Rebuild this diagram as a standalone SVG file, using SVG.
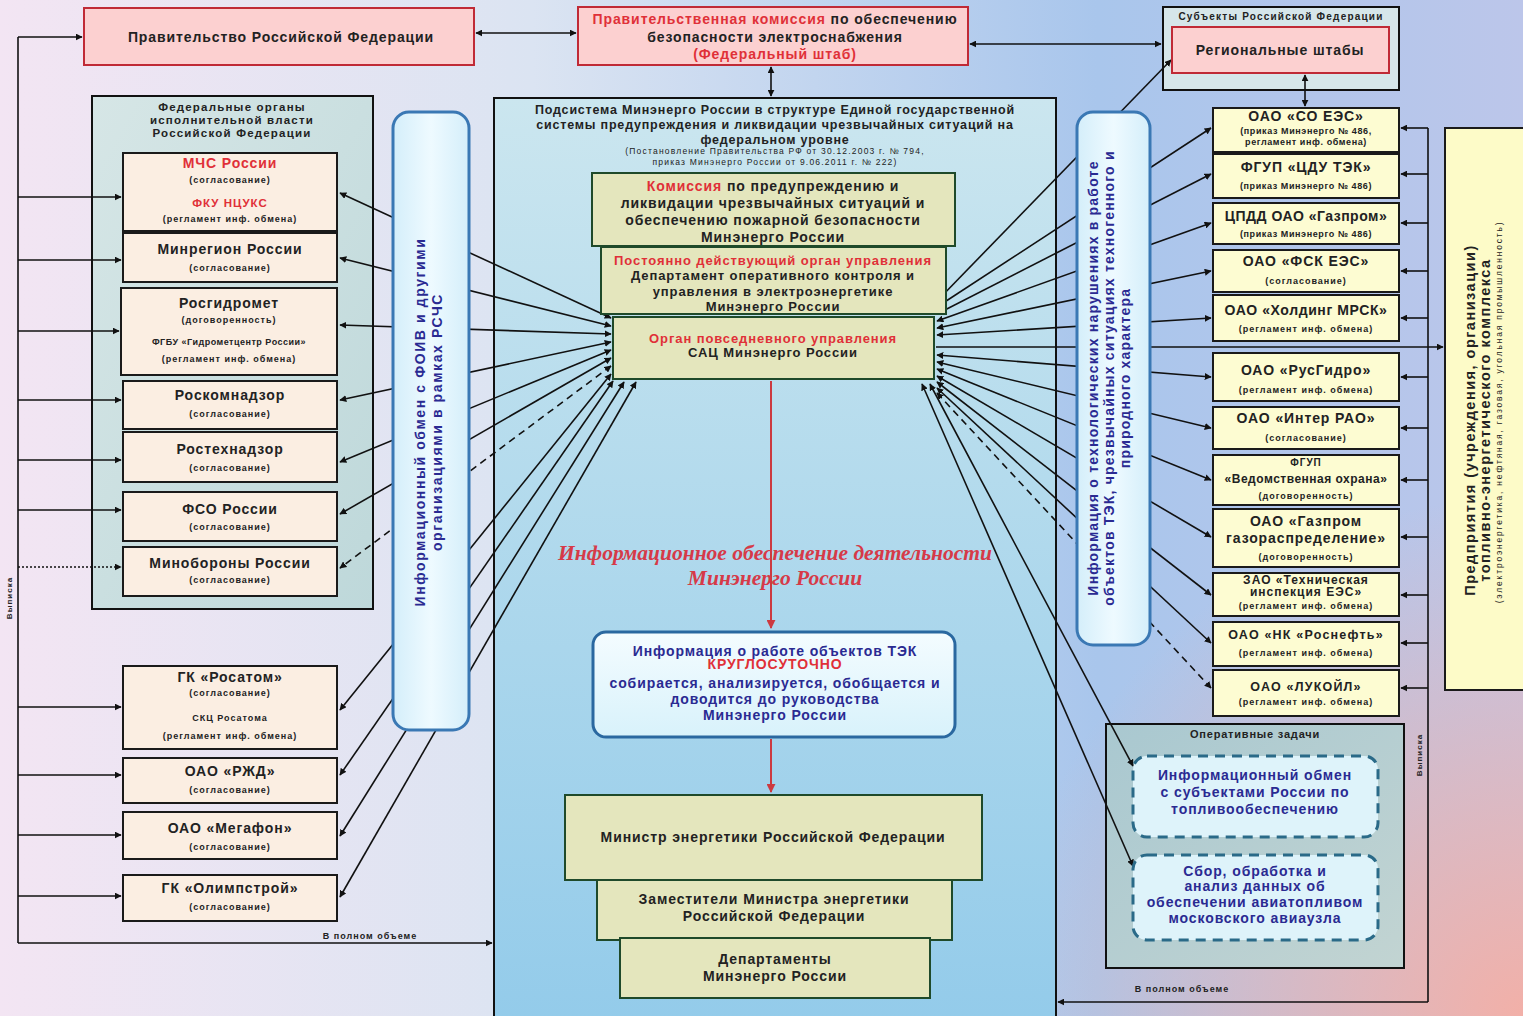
<svg xmlns="http://www.w3.org/2000/svg" width="1523" height="1016" viewBox="0 0 1523 1016">
<defs>
<linearGradient id="bg" x1="0" y1="0" x2="1" y2="0">
<stop offset="0" stop-color="#f3e5f3"/><stop offset="0.35" stop-color="#dbe4f2"/><stop offset="0.72" stop-color="#a9c6ec"/><stop offset="1" stop-color="#bcc6ea"/>
</linearGradient>
<radialGradient id="pink" cx="1523" cy="1016" r="520" gradientUnits="userSpaceOnUse">
<stop offset="0" stop-color="#f2b0a8" stop-opacity="1"/><stop offset="1" stop-color="#f2b0a8" stop-opacity="0"/>
</radialGradient>
<linearGradient id="center" x1="0" y1="0" x2="0" y2="1">
<stop offset="0" stop-color="#cbe6ef"/><stop offset="1" stop-color="#93cbea"/>
</linearGradient>
<linearGradient id="fed" x1="0" y1="0" x2="1" y2="1">
<stop offset="0" stop-color="#d6e6e6"/><stop offset="1" stop-color="#bed8da"/>
</linearGradient>
<linearGradient id="oper" x1="0" y1="0" x2="1" y2="1">
<stop offset="0" stop-color="#a9c8d0"/><stop offset="1" stop-color="#c2d4d2"/>
</linearGradient>
<linearGradient id="vblue" x1="0" y1="0" x2="1" y2="0">
<stop offset="0" stop-color="#d4eefa"/><stop offset="0.5" stop-color="#eefaff"/><stop offset="1" stop-color="#d4eefa"/>
</linearGradient>
<linearGradient id="info" x1="0" y1="0" x2="0" y2="1">
<stop offset="0" stop-color="#f4fcff"/><stop offset="1" stop-color="#d8f2fb"/>
</linearGradient>
<marker id="a" viewBox="0 0 10 10" refX="9" refY="5" markerWidth="7" markerHeight="7" markerUnits="userSpaceOnUse" orient="auto-start-reverse">
<path d="M0,0 L10,5 L0,10 z" fill="#111"/>
</marker>
<marker id="ar" viewBox="0 0 10 10" refX="9" refY="5" markerWidth="9" markerHeight="9" markerUnits="userSpaceOnUse" orient="auto">
<path d="M0,0 L10,5 L0,10 z" fill="#cc3a40"/>
</marker>
<style>
text{font-family:"Liberation Sans",Arial,sans-serif;font-weight:bold;fill:#222;text-anchor:middle}
.m{font-size:14px;letter-spacing:0.9px}
.n{font-size:13px;letter-spacing:0.9px}
.s{font-size:9px;letter-spacing:1px}
.xs{font-size:9px;letter-spacing:1px}
.r{fill:#e03038}
.b{fill:#2a2a92}
.pk{fill:#fcd0d0;stroke:#c02a36;stroke-width:2}
.pe{fill:#fbeee2;stroke:#1a1a1a;stroke-width:2}
.ye{fill:#fdfcd2;stroke:#1a1a1a;stroke-width:2}
.kh{fill:#e4e6bd;stroke:#1f4a2a;stroke-width:2}
.cn line,.cn path{stroke:#111;stroke-width:1.6;fill:none}
.dash{stroke-dasharray:7 5}
.dot{stroke-dasharray:2 2}
</style>
</defs>
<rect width="1523" height="1016" fill="url(#bg)"/>
<rect width="1523" height="1016" fill="url(#pink)"/>

<g id="containers">
<rect x="92" y="96" width="281" height="513" fill="url(#fed)" stroke="#111" stroke-width="2"/>
<rect x="494" y="98" width="562" height="930" fill="url(#center)" stroke="#111" stroke-width="2"/>
<rect x="1106" y="724" width="298" height="244" fill="url(#oper)" stroke="#111" stroke-width="2"/>
<rect x="1163" y="7" width="236" height="83" fill="#d6e6ea" stroke="#111" stroke-width="2"/>
</g>

<g id="connectors" class="cn">
<line x1="18" y1="37" x2="18" y2="943"/>
<line x1="18" y1="37" x2="82" y2="37" marker-end="url(#a)"/>
<line x1="18" y1="197" x2="121" y2="197" marker-end="url(#a)"/>
<line x1="18" y1="260" x2="121" y2="260" marker-end="url(#a)"/>
<line x1="18" y1="331" x2="119" y2="331" marker-end="url(#a)"/>
<line x1="18" y1="400" x2="121" y2="400" marker-end="url(#a)"/>
<line x1="18" y1="460" x2="121" y2="460" marker-end="url(#a)"/>
<line x1="18" y1="510" x2="121" y2="510" marker-end="url(#a)"/>
<line x1="18" y1="567" x2="121" y2="567" class="dot" marker-end="url(#a)"/>
<line x1="18" y1="707" x2="121" y2="707" marker-end="url(#a)"/>
<line x1="18" y1="775" x2="121" y2="775" marker-end="url(#a)"/>
<line x1="18" y1="835" x2="121" y2="835" marker-end="url(#a)"/>
<line x1="18" y1="896" x2="121" y2="896" marker-end="url(#a)"/>
<line x1="18" y1="943" x2="492" y2="943" marker-end="url(#a)"/>
<line x1="476" y1="33" x2="576" y2="33" marker-start="url(#a)" marker-end="url(#a)"/>
<line x1="970" y1="44" x2="1161" y2="44" marker-start="url(#a)" marker-end="url(#a)"/>
<line x1="771" y1="67" x2="771" y2="96" marker-start="url(#a)" marker-end="url(#a)"/>
<line x1="1305" y1="75" x2="1305" y2="106" marker-start="url(#a)" marker-end="url(#a)"/>
<line x1="611" y1="318" x2="340" y2="193" marker-start="url(#a)" marker-end="url(#a)"/>
<line x1="611" y1="326" x2="340" y2="258" marker-start="url(#a)" marker-end="url(#a)"/>
<line x1="611" y1="334" x2="340" y2="325" marker-start="url(#a)" marker-end="url(#a)"/>
<line x1="611" y1="342" x2="340" y2="400" marker-start="url(#a)" marker-end="url(#a)"/>
<line x1="611" y1="350" x2="340" y2="462" marker-start="url(#a)" marker-end="url(#a)"/>
<line x1="611" y1="358" x2="340" y2="514" marker-start="url(#a)" marker-end="url(#a)"/>
<line x1="611" y1="366" x2="340" y2="568" class="dash" marker-start="url(#a)" marker-end="url(#a)"/>
<line x1="611" y1="374" x2="340" y2="710" marker-start="url(#a)" marker-end="url(#a)"/>
<line x1="613" y1="381" x2="340" y2="775" marker-start="url(#a)" marker-end="url(#a)"/>
<line x1="624" y1="382" x2="340" y2="836" marker-start="url(#a)" marker-end="url(#a)"/>
<line x1="636" y1="382" x2="340" y2="897" marker-start="url(#a)" marker-end="url(#a)"/>
<line x1="938" y1="300" x2="1171" y2="60" marker-start="url(#a)" marker-end="url(#a)"/>
<line x1="937" y1="307" x2="1211" y2="128" marker-start="url(#a)" marker-end="url(#a)"/>
<line x1="937" y1="314" x2="1211" y2="174" marker-start="url(#a)" marker-end="url(#a)"/>
<line x1="937" y1="321" x2="1211" y2="223" marker-start="url(#a)" marker-end="url(#a)"/>
<line x1="937" y1="328" x2="1211" y2="271" marker-start="url(#a)" marker-end="url(#a)"/>
<line x1="937" y1="335" x2="1211" y2="318" marker-start="url(#a)" marker-end="url(#a)"/>
<line x1="936" y1="347" x2="1443" y2="347" marker-end="url(#a)"/>
<line x1="937" y1="355" x2="1211" y2="377" marker-start="url(#a)" marker-end="url(#a)"/>
<line x1="937" y1="362" x2="1211" y2="428" marker-start="url(#a)" marker-end="url(#a)"/>
<line x1="937" y1="369" x2="1211" y2="480" marker-start="url(#a)" marker-end="url(#a)"/>
<line x1="937" y1="376" x2="1211" y2="537" marker-start="url(#a)" marker-end="url(#a)"/>
<line x1="937" y1="382" x2="1211" y2="595" marker-start="url(#a)" marker-end="url(#a)"/>
<line x1="937" y1="388" x2="1211" y2="643" marker-start="url(#a)" marker-end="url(#a)"/>
<line x1="937" y1="393" x2="1211" y2="688" class="dash" marker-start="url(#a)" marker-end="url(#a)"/>
<line x1="930" y1="384" x2="1133" y2="766" marker-start="url(#a)" marker-end="url(#a)"/>
<line x1="922" y1="384" x2="1133" y2="866" marker-start="url(#a)" marker-end="url(#a)"/>
<line x1="1428" y1="128" x2="1428" y2="1002"/>
<line x1="1428" y1="128" x2="1401" y2="128" marker-end="url(#a)"/>
<line x1="1428" y1="174" x2="1401" y2="174" marker-end="url(#a)"/>
<line x1="1428" y1="223" x2="1401" y2="223" marker-end="url(#a)"/>
<line x1="1428" y1="271" x2="1401" y2="271" marker-end="url(#a)"/>
<line x1="1428" y1="318" x2="1401" y2="318" marker-end="url(#a)"/>
<line x1="1428" y1="377" x2="1401" y2="377" marker-end="url(#a)"/>
<line x1="1428" y1="428" x2="1401" y2="428" marker-end="url(#a)"/>
<line x1="1428" y1="480" x2="1401" y2="480" marker-end="url(#a)"/>
<line x1="1428" y1="537" x2="1401" y2="537" marker-end="url(#a)"/>
<line x1="1428" y1="595" x2="1401" y2="595" marker-end="url(#a)"/>
<line x1="1428" y1="643" x2="1401" y2="643" marker-end="url(#a)"/>
<line x1="1428" y1="688" x2="1401" y2="688" marker-end="url(#a)"/>
<line x1="1428" y1="1002" x2="1058" y2="1002" marker-end="url(#a)"/>
<line x1="771" y1="381" x2="771" y2="628" style="stroke:#cc3a40;stroke-width:2" marker-end="url(#ar)"/>
<line x1="771" y1="739" x2="771" y2="792" style="stroke:#cc3a40;stroke-width:2" marker-end="url(#ar)"/>
</g>

<g id="labels">
<text class="xs" transform="translate(12,598) rotate(-90)" style="font-size:8px">Выписка</text>
<text class="xs" x="370" y="939">В полном объеме</text>
<text class="xs" transform="translate(1422,755) rotate(-90)" style="font-size:8px">Выписка</text>
<text class="xs" x="1182" y="992">В полном объеме</text>
</g>

<g id="n-gov">
<rect x="84" y="8" width="390" height="57" class="pk"/>
<text class="m" x="281" y="42">Правительство Российской Федерации</text>
</g>
<g id="n-commission">
<rect x="578" y="7" width="390" height="58" class="pk"/>
<text class="m" x="775" y="24"><tspan class="r">Правительственная комиссия</tspan> по обеспечению</text>
<text class="m" x="775" y="42">безопасности электроснабжения</text>
<text class="m r" x="775" y="59">(Федеральный штаб)</text>
</g>
<g id="n-subjects">
<text class="s" x="1281" y="20" style="font-size:10px;letter-spacing:1.2px">Субъекты Российской Федерации</text>
<rect x="1172" y="27" width="217" height="46" class="pk"/>
<text class="m" x="1280" y="55">Региональные штабы</text>
</g>

<g id="n-fed-title">
<text class="s" x="232" y="111" style="font-size:11.5px;letter-spacing:1.2px">Федеральные органы</text>
<text class="s" x="232" y="124" style="font-size:11.5px;letter-spacing:1.2px">исполнительной власти</text>
<text class="s" x="232" y="137" style="font-size:11.5px;letter-spacing:1.2px">Российской Федерации</text>
</g>
<g id="n-mchs">
<rect x="123" y="153" width="214" height="78" class="pe"/>
<text class="m r" x="230" y="168">МЧС России</text>
<text class="s" x="230" y="183">(согласование)</text>
<text class="s r" x="230" y="207" style="font-size:11.5px">ФКУ НЦУКС</text>
<text class="s" x="230" y="222">(регламент инф. обмена)</text>
</g>
<g id="n-minregion">
<rect x="123" y="233" width="214" height="49" class="pe"/>
<text class="m" x="230" y="254">Минрегион России</text>
<text class="s" x="230" y="271">(согласование)</text>
</g>
<g id="n-rosgidromet">
<rect x="121" y="288" width="216" height="87" class="pe"/>
<text class="m" x="229" y="308">Росгидромет</text>
<text class="s" x="229" y="323">(договоренность)</text>
<text class="s" x="229" y="345" style="letter-spacing:0.5px">ФГБУ «Гидрометцентр России»</text>
<text class="s" x="229" y="362">(регламент инф. обмена)</text>
</g>
<g id="n-roskom">
<rect x="123" y="381" width="214" height="48" class="pe"/>
<text class="m" x="230" y="400">Роскомнадзор</text>
<text class="s" x="230" y="417">(согласование)</text>
</g>
<g id="n-rostech">
<rect x="123" y="432" width="214" height="50" class="pe"/>
<text class="m" x="230" y="454">Ростехнадзор</text>
<text class="s" x="230" y="471">(согласование)</text>
</g>
<g id="n-fso">
<rect x="123" y="492" width="214" height="49" class="pe"/>
<text class="m" x="230" y="514">ФСО России</text>
<text class="s" x="230" y="530">(согласование)</text>
</g>
<g id="n-minoborony">
<rect x="123" y="547" width="214" height="49" class="pe"/>
<text class="m" x="230" y="568">Минобороны России</text>
<text class="s" x="230" y="583">(согласование)</text>
</g>
<g id="n-rosatom">
<rect x="123" y="666" width="214" height="83" class="pe"/>
<text class="m" x="230" y="682">ГК «Росатом»</text>
<text class="s" x="230" y="696">(согласование)</text>
<text class="s" x="230" y="721">СКЦ Росатома</text>
<text class="s" x="230" y="739">(регламент инф. обмена)</text>
</g>
<g id="n-rzd">
<rect x="123" y="758" width="214" height="45" class="pe"/>
<text class="m" x="230" y="776">ОАО «РЖД»</text>
<text class="s" x="230" y="793">(согласование)</text>
</g>
<g id="n-megafon">
<rect x="123" y="812" width="214" height="47" class="pe"/>
<text class="m" x="230" y="833">ОАО «Мегафон»</text>
<text class="s" x="230" y="850">(согласование)</text>
</g>
<g id="n-olimpstroy">
<rect x="123" y="875" width="214" height="46" class="pe"/>
<text class="m" x="230" y="893">ГК «Олимпстрой»</text>
<text class="s" x="230" y="910">(согласование)</text>
</g>

<g id="n-left-info">
<rect x="393" y="112" width="76" height="618" rx="16" fill="url(#vblue)" stroke="#3a78b4" stroke-width="3"/>
<text class="m b" transform="translate(425,422) rotate(-90)" style="letter-spacing:1.6px">Информационный обмен с ФОИВ и другими</text>
<text class="m b" transform="translate(442,422) rotate(-90)" style="letter-spacing:1.6px">организациями в рамках РСЧС</text>
</g>

<g id="n-center-title">
<text class="s" x="775" y="114" style="font-size:12.5px;letter-spacing:0.8px">Подсистема Минэнерго России в структуре Единой государственной</text>
<text class="s" x="775" y="129" style="font-size:12.5px;letter-spacing:0.8px">системы предупреждения и ликвидации чрезвычайных ситуаций на</text>
<text class="s" x="775" y="144" style="font-size:12.5px;letter-spacing:0.8px">федеральном уровне</text>
<text class="xs" x="775" y="154" style="font-size:8.5px;font-weight:normal;letter-spacing:1.2px">(Постановление Правительства РФ от 30.12.2003 г. № 794,</text>
<text class="xs" x="775" y="165" style="font-size:8.5px;font-weight:normal;letter-spacing:1.2px">приказ Минэнерго России от 9.06.2011 г. № 222)</text>
</g>
<g id="n-kchs">
<rect x="592" y="173" width="363" height="73" class="kh"/>
<text class="m" x="773" y="191"><tspan class="r">Комиссия</tspan> по предупреждению и</text>
<text class="m" x="773" y="208">ликвидации чрезвычайных ситуаций и</text>
<text class="m" x="773" y="225">обеспечению пожарной безопасности</text>
<text class="m" x="773" y="242">Минэнерго России</text>
</g>
<g id="n-postoyanno">
<rect x="601" y="247" width="345" height="67" class="kh"/>
<text class="n r" x="773" y="265">Постоянно действующий орган управления</text>
<text class="n" x="773" y="280">Департамент оперативного контроля и</text>
<text class="n" x="773" y="296">управления в электроэнергетике</text>
<text class="n" x="773" y="311">Минэнерго России</text>
</g>
<g id="n-sac">
<rect x="613" y="317" width="321" height="62" class="kh"/>
<text class="n r" x="773" y="343">Орган повседневного управления</text>
<text class="n" x="773" y="357">САЦ Минэнерго России</text>
</g>
<g id="n-red-label">
<text x="775" y="560" style="font-family:'Liberation Serif',serif;font-style:italic;font-size:21.5px;fill:#d63a48">Информационное обеспечение деятельности</text>
<text x="775" y="585" style="font-family:'Liberation Serif',serif;font-style:italic;font-size:21.5px;fill:#d63a48">Минэнерго России</text>
</g>
<g id="n-info">
<rect x="593" y="632" width="362" height="105" rx="13" fill="url(#info)" stroke="#2a68a0" stroke-width="3"/>
<text class="m b" x="775" y="656">Информация о работе объектов ТЭК</text>
<text class="m r" x="775" y="669">КРУГЛОСУТОЧНО</text>
<text class="m b" x="775" y="688">собирается, анализируется, обобщается и</text>
<text class="m b" x="775" y="704">доводится до руководства</text>
<text class="m b" x="775" y="720">Минэнерго России</text>
</g>
<g id="n-minister">
<rect x="565" y="795" width="417" height="85" class="kh"/>
<text class="m" x="773" y="842">Министр энергетики Российской Федерации</text>
</g>
<g id="n-deputies">
<rect x="597" y="880" width="355" height="60" class="kh"/>
<text class="m" x="774" y="904">Заместители Министра энергетики</text>
<text class="m" x="774" y="921">Российской Федерации</text>
</g>
<g id="n-departments">
<rect x="620" y="938" width="310" height="60" class="kh"/>
<text class="m" x="775" y="964">Департаменты</text>
<text class="m" x="775" y="981">Минэнерго России</text>
</g>

<g id="n-right-info">
<rect x="1077" y="112" width="73" height="533" rx="16" fill="url(#vblue)" stroke="#3a78b4" stroke-width="3"/>
<text class="m b" transform="translate(1098,378) rotate(-90)" style="letter-spacing:1.2px">Информация о технологических нарушениях в работе</text>
<text class="m b" transform="translate(1114,378) rotate(-90)" style="letter-spacing:1.2px">объектов ТЭК, чрезвычайных ситуациях техногенного и</text>
<text class="m b" transform="translate(1130,378) rotate(-90)" style="letter-spacing:1.2px">природного характера</text>
</g>

<g id="n-so-ees">
<rect x="1213" y="108" width="186" height="44" class="ye"/>
<text class="m" x="1306" y="121">ОАО «СО ЕЭС»</text>
<text class="s" x="1306" y="134" style="letter-spacing:0.6px">(приказ Минэнерго № 486,</text>
<text class="s" x="1306" y="145" style="letter-spacing:0.6px">регламент инф. обмена)</text>
</g>
<g id="n-cdu">
<rect x="1213" y="154" width="186" height="44" class="ye"/>
<text class="m" x="1306" y="172">ФГУП «ЦДУ ТЭК»</text>
<text class="s" x="1306" y="189" style="letter-spacing:0.6px">(приказ Минэнерго № 486)</text>
</g>
<g id="n-cpdd">
<rect x="1213" y="203" width="186" height="41" class="ye"/>
<text class="m" x="1306" y="221" style="letter-spacing:0.5px">ЦПДД ОАО «Газпром»</text>
<text class="s" x="1306" y="237" style="letter-spacing:0.6px">(приказ Минэнерго № 486)</text>
</g>
<g id="n-fsk">
<rect x="1213" y="250" width="186" height="42" class="ye"/>
<text class="m" x="1306" y="266">ОАО «ФСК ЕЭС»</text>
<text class="s" x="1306" y="284">(согласование)</text>
</g>
<g id="n-mrsk">
<rect x="1213" y="295" width="186" height="46" class="ye"/>
<text class="m" x="1306" y="315" style="letter-spacing:0.6px">ОАО «Холдинг МРСК»</text>
<text class="s" x="1306" y="332">(регламент инф. обмена)</text>
</g>
<g id="n-rushydro">
<rect x="1213" y="353" width="186" height="48" class="ye"/>
<text class="m" x="1306" y="375">ОАО «РусГидро»</text>
<text class="s" x="1306" y="393">(регламент инф. обмена)</text>
</g>
<g id="n-interrao">
<rect x="1213" y="407" width="186" height="42" class="ye"/>
<text class="m" x="1306" y="423">ОАО «Интер РАО»</text>
<text class="s" x="1306" y="441">(согласование)</text>
</g>
<g id="n-vohrana">
<rect x="1213" y="455" width="186" height="50" class="ye"/>
<text class="s" x="1306" y="466" style="font-size:10px">ФГУП</text>
<text class="s" x="1306" y="483" style="font-size:12px;letter-spacing:0.5px">«Ведомственная охрана»</text>
<text class="s" x="1306" y="499">(договоренность)</text>
</g>
<g id="n-gazprom-gr">
<rect x="1213" y="509" width="186" height="58" class="ye"/>
<text class="m" x="1306" y="526">ОАО «Газпром</text>
<text class="m" x="1306" y="543">газораспределение»</text>
<text class="s" x="1306" y="560">(договоренность)</text>
</g>
<g id="n-techinsp">
<rect x="1213" y="573" width="186" height="43" class="ye"/>
<text class="s" x="1306" y="584" style="font-size:12px">ЗАО «Техническая</text>
<text class="s" x="1306" y="596" style="font-size:12px">инспекция ЕЭС»</text>
<text class="s" x="1306" y="609">(регламент инф. обмена)</text>
</g>
<g id="n-rosneft">
<rect x="1213" y="622" width="186" height="44" class="ye"/>
<text class="s" x="1306" y="639" style="font-size:12.5px;letter-spacing:1.2px">ОАО «НК «Роснефть»</text>
<text class="s" x="1306" y="656">(регламент инф. обмена)</text>
</g>
<g id="n-lukoil">
<rect x="1213" y="670" width="186" height="46" class="ye"/>
<text class="s" x="1306" y="691" style="font-size:12.5px;letter-spacing:1.2px">ОАО «ЛУКОЙЛ»</text>
<text class="s" x="1306" y="705">(регламент инф. обмена)</text>
</g>

<g id="n-enterprises">
<rect x="1445" y="128" width="80" height="562" fill="#fdfbc8" stroke="#1a1a1a" stroke-width="2"/>
<text class="s" transform="translate(1475,420) rotate(-90)" style="font-size:14.5px;letter-spacing:1.5px">Предприятия (учреждения, организации)</text>
<text class="s" transform="translate(1490,420) rotate(-90)" style="font-size:14.5px;letter-spacing:1.5px">топливно-энергетического комплекса</text>
<text class="xs" transform="translate(1502,412) rotate(-90)" style="font-size:8.5px;font-weight:normal;letter-spacing:1.8px">(электроэнергетика, нефтяная, газовая, угольная промышленность)</text>
</g>

<g id="n-oper">
<text class="s" x="1255" y="738" style="font-size:11px;letter-spacing:0.8px">Оперативные задачи</text>
</g>
<g id="n-oper1">
<rect x="1133" y="756" width="245" height="81" rx="14" fill="#def3fa" stroke="#2a6a88" stroke-width="3" stroke-dasharray="10 7"/>
<text class="m b" x="1255" y="780">Информационный обмен</text>
<text class="m b" x="1255" y="797">с субъектами России по</text>
<text class="m b" x="1255" y="814">топливообеспечению</text>
</g>
<g id="n-oper2">
<rect x="1133" y="855" width="245" height="85" rx="14" fill="#def3fa" stroke="#2a6a88" stroke-width="3" stroke-dasharray="10 7"/>
<text class="m b" x="1255" y="876">Сбор, обработка и</text>
<text class="m b" x="1255" y="891">анализ данных об</text>
<text class="m b" x="1255" y="907">обеспечении авиатопливом</text>
<text class="m b" x="1255" y="923">московского авиаузла</text>
</g>
</svg>
